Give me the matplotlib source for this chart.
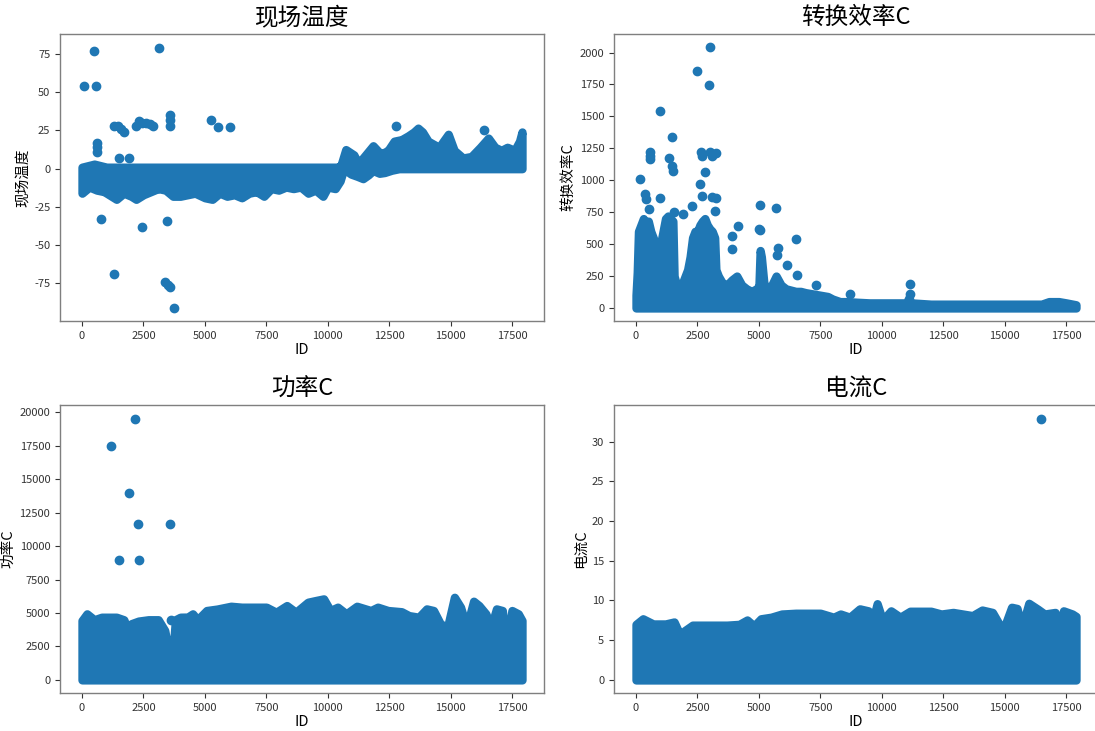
import matplotlib
matplotlib.use("Agg")
import matplotlib.pyplot as plt
import numpy as np

plt.rcParams['font.family'] = ['Noto Sans CJK SC', 'DejaVu Sans']
plt.rcParams['axes.unicode_minus'] = False

C = '#1f77b4'

# ---------------- 现场温度 ----------------
temp_hi_x = [0, 500, 1000, 2000, 3000, 4000, 5000, 6000, 7000, 8000, 9000, 10000, 10400,
             10530, 10730, 11060, 11250, 11430, 11840, 12160, 12450, 12700, 13000, 13270, 13500,
             13670, 13850, 14080, 14300, 14530, 14700, 14900, 15140, 15500, 15840, 16200, 16530,
             16800, 17060, 17300, 17600, 17800, 17900]
temp_hi_y = [1, 3, 1, 1, 1, 1, 1, 1, 1, 1, 1, 1, 1,
             2, 12.5, 9, 3, 7, 15, 9.5, 12, 18, 19, 21.5, 24,
             26.5, 24, 18, 16, 14, 18, 22.5, 12, 7, 8, 14, 20,
             14, 12, 14, 12, 18, 24]
temp_lo_x = [0, 300, 600, 900, 1200, 1400, 1700, 2000, 2200, 2500, 2800, 3100, 3400, 3700,
             4000, 4300, 4600, 5000, 5300, 5600, 5900, 6200, 6500, 6800, 7100, 7400, 7700,
             8000, 8300, 8600, 8900, 9200, 9500, 9800, 10000, 10300, 10500, 10650, 10940,
             11200, 11430, 11650, 11840, 12100, 12310, 12600, 12900, 13500, 15000, 17900]
temp_lo_y = [-16, -12, -14, -15, -18, -20, -16, -18, -20, -17, -15, -13, -14, -18,
             -18, -17, -16, -19, -20, -16, -18, -17, -19, -16, -15, -18, -13,
             -14, -12, -13, -12, -16, -14, -18, -12, -13, -8, 0, -3.5,
             -5, -6.5, -4, -1.2, -3, -2.5, -1, 0, 0, 0, 0]
temp_out_x = [500, 3150, 100, 570, 600, 600, 600, 1300, 1450, 1600, 1720, 1500, 1900,
              2200, 2300, 2450, 2600, 2750, 2900, 3580, 3580, 3580, 5250, 5520, 6020,
              770, 2440, 3440, 1300, 3370, 3500, 3600, 3750, 12780, 16360]
temp_out_y = [77, 79, 54, 54, 17, 14, 11, 28, 28, 26, 24, 7, 7,
              28, 31, 30, 30, 29, 28, 35, 32, 28, 32, 27, 27,
              -33, -38, -34, -69, -74, -76, -77, -91, 28, 25]

# ---------------- 转换效率C ----------------
eff_hi_x = [0, 50, 100, 200, 300, 400, 500, 600, 700, 800, 900, 1000, 1100, 1200, 1300, 1400,
            1500, 1550, 1650, 1800, 2000, 2100, 2200, 2300, 2400, 2500, 2600, 2700, 2800, 2900,
            3000, 3100, 3200, 3250, 3350, 3500, 3700, 3900, 4100, 4300, 4500, 4700, 4900, 5000,
            5050, 5100, 5200, 5300, 5500, 5700, 5900, 6100, 6300, 6500, 6700, 6900, 7200, 7500,
            7800, 8000, 8300, 8600, 9000, 9500, 10000, 10500, 11000, 11100, 11200, 12000, 13000,
            14000, 15000, 16000, 16500, 16800, 17200, 17500, 17900]
eff_hi_y = [100, 280, 600, 650, 700, 650, 680, 600, 550, 500, 450, 500, 600, 700, 720, 700,
            680, 250, 180, 150, 250, 300, 400, 550, 600, 600, 650, 680, 700, 650,
            620, 600, 550, 300, 250, 200, 180, 220, 250, 180, 150, 130, 150, 170,
            450, 400, 200, 150, 170, 250, 180, 150, 140, 130, 130, 120, 110, 100,
            90, 70, 50, 50, 45, 40, 40, 40, 40, 80, 40, 30, 30,
            30, 30, 30, 30, 50, 50, 40, 25]
eff_out_x = [3030, 2470, 2990, 960, 1480, 170, 560, 560, 560, 1340, 1480, 1510, 2640, 2680,
             3030, 3100, 3245, 2820, 2610, 350, 420, 960, 2680, 3100, 3245, 2260, 1900, 540,
             1550, 3220, 5040, 5710, 5010, 5040, 4130, 3910, 3920, 6520, 5790, 5720, 6140,
             6560, 7340, 8690, 11150, 11150]
eff_out_y = [2040, 1857, 1745, 1544, 1341, 1010, 1219, 1193, 1167, 1172, 1115, 1076, 1219, 1193,
             1219, 1193, 1213, 1062, 971, 893, 854, 862, 880, 867, 862, 802, 732, 771,
             750, 758, 810, 784, 620, 607, 638, 562, 458, 541, 469, 411, 333,
             260, 177, 112, 190, 112]

# ---------------- 功率C ----------------
pow_hi_x = [0, 200, 500, 800, 1100, 1400, 1700, 1875, 2000, 2300, 2700, 3100, 3365, 3550, 3700,
            3800, 4000, 4300, 4500, 4700, 5070, 5500, 6060, 6500, 7000, 7500, 7900, 8330, 8700,
            9190, 9500, 9830, 10100, 10400, 10750, 11180, 11750, 12030, 12450, 13000, 13300,
            13700, 14020, 14300, 14580, 14870, 15150, 15400, 15650, 15930, 16150, 16430, 16640,
            16860, 17100, 17250, 17490, 17750, 17900]
pow_hi_y = [4440, 4940, 4500, 4690, 4690, 4690, 4500, 3690, 4200, 4400, 4500, 4500, 3700, 1900, 2100,
            4500, 4690, 4700, 4940, 4500, 5190, 5300, 5510, 5440, 5440, 5440, 5060, 5560, 5060,
            5810, 5935, 6060, 5190, 5440, 4940, 5510, 5190, 5440, 5190, 5100, 4810,
            4690, 5310, 5190, 4190, 3940, 6180, 5440, 3940, 5885, 5560, 4940, 3940,
            5310, 5190, 2440, 5190, 4940, 4440]
pow_out_x = [2160, 1180, 1920, 2260, 3580, 1520, 2300, 3620]
pow_out_y = [19528, 17508, 13966, 11672, 11672, 8978, 8978, 4500]

# ---------------- 电流C ----------------
cur_hi_x = [0, 280, 700, 1200, 1550, 1830, 1975, 2300, 2800, 3300, 3700, 4200, 4520, 4800,
            5080, 5500, 5930, 6500, 7000, 7500, 8040, 8320, 8700, 9100, 9450, 9670, 9810,
            10030, 10370, 10750, 11150, 11600, 12000, 12420, 12900, 13690, 14080, 14500,
            14930, 15280, 15500, 15700, 15980, 16350, 16620, 17050, 17180, 17390, 17750, 17900]
cur_hi_y = [7.0, 7.7, 7.05, 7.05, 7.3, 5.4, 6.2, 6.9, 6.9, 6.9, 6.9, 7.0, 7.55, 6.8,
            7.7, 7.9, 8.3, 8.4, 8.4, 8.4, 7.9, 8.3, 7.9, 8.95, 8.7, 7.9, 9.6,
            7.5, 8.7, 7.9, 8.65, 8.65, 8.65, 8.3, 8.5, 8.1, 8.8, 8.5,
            6.2, 9.15, 9.0, 6.6, 9.65, 8.9, 8.3, 8.5, 4.1, 8.7, 8.3, 8.0]
cur_out_x = [16470]
cur_out_y = [32.85]

id_ticks = [0, 2500, 5000, 7500, 10000, 12500, 15000, 17500]
temp_ticks = [-75, -50, -25, 0, 25, 50, 75]
eff_ticks = [0, 250, 500, 750, 1000, 1250, 1500, 1750, 2000]
pow_ticks = [0, 2500, 5000, 7500, 10000, 12500, 15000, 17500, 20000]
cur_ticks = [0, 5, 10, 15, 20, 25, 30]

fig = plt.figure(figsize=(10.95, 7.31), dpi=100)
W, H = 1095.0, 731.0
rects = [(60, 34, 544, 321), (614, 34, 1098, 321), (60, 405, 544, 693), (614, 405, 1098, 693)]
axes = [fig.add_axes([l / W, 1 - b / H, (r - l) / W, (b - t) / H]) for (l, t, r, b) in rects]


def band(ax, x, lo, hi):
    ax.fill_between(x, lo, hi, facecolor=C, edgecolor=C, linewidth=6, joinstyle='round')


def style(ax, title, ylabel, yticks, ylim):
    ax.set_title(title, fontsize=17, pad=7)
    ax.set_xlabel('ID', fontsize=10.5, labelpad=2)
    ax.set_ylabel(ylabel, fontsize=10.5, labelpad=3)
    ax.set_xticks(id_ticks)
    ax.set_yticks(yticks)
    ax.set_xlim(-895, 18795)
    ax.set_ylim(*ylim)
    ax.tick_params(labelsize=8, colors='#333333', length=3.5, width=0.8)
    for s in ax.spines.values():
        s.set_color('#7f7f7f')
        s.set_linewidth(1.0)


ax = axes[0]
grid_x = sorted(set(temp_hi_x) | set(temp_lo_x))
band(ax, grid_x, np.interp(grid_x, temp_lo_x, temp_lo_y), np.interp(grid_x, temp_hi_x, temp_hi_y))
ax.scatter(temp_out_x, temp_out_y, s=36, color=C)
style(ax, '现场温度', '现场温度', temp_ticks, (-99.5, 88))

ax = axes[1]
band(ax, eff_hi_x, [0] * len(eff_hi_x), eff_hi_y)
ax.scatter(eff_out_x, eff_out_y, s=36, color=C)
style(ax, '转换效率C', '转换效率C', eff_ticks, (-102, 2145))

ax = axes[2]
band(ax, pow_hi_x, [0] * len(pow_hi_x), pow_hi_y)
ax.scatter(pow_out_x, pow_out_y, s=36, color=C)
style(ax, '功率C', '功率C', pow_ticks, (-980, 20560))

ax = axes[3]
band(ax, cur_hi_x, [0] * len(cur_hi_x), cur_hi_y)
ax.scatter(cur_out_x, cur_out_y, s=36, color=C)
style(ax, '电流C', '电流C', cur_ticks, (-1.64, 34.6))

fig.savefig('out.png', dpi=100)
